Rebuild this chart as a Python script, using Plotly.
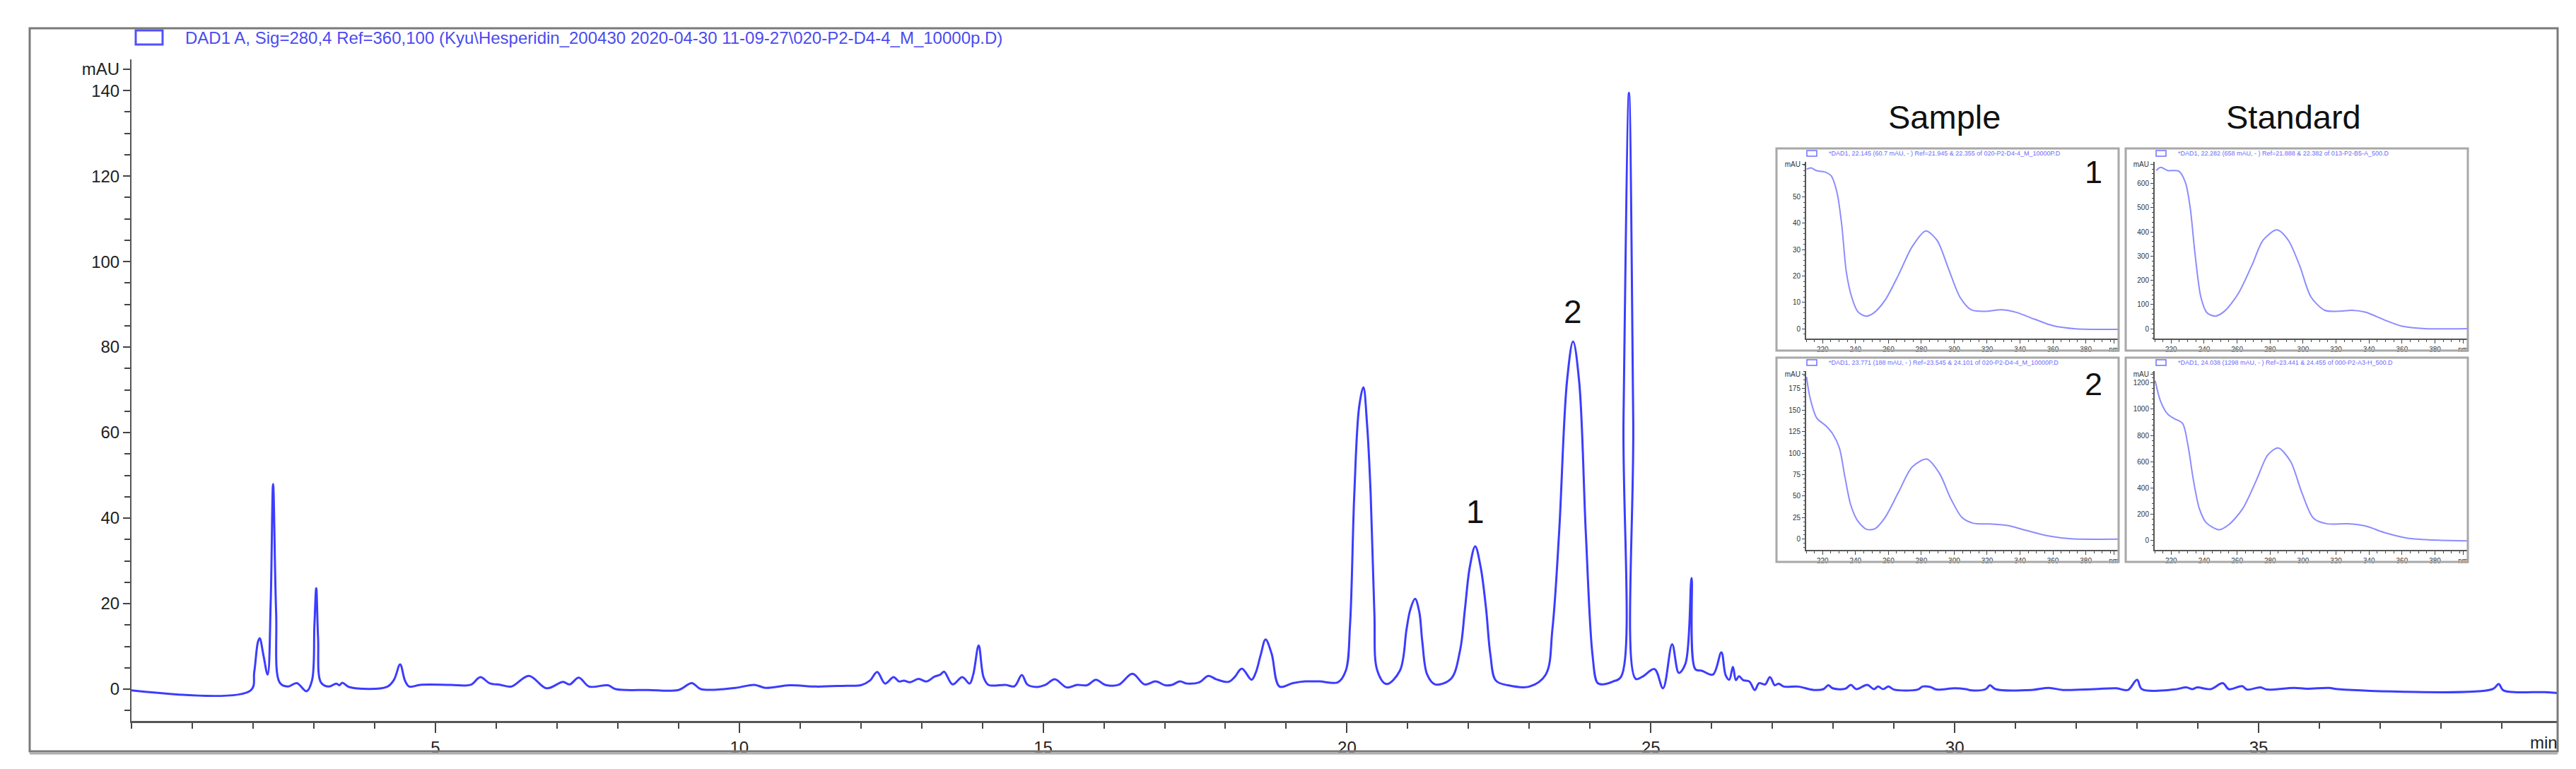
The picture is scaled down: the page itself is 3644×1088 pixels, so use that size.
import plotly.graph_objects as go

# chromatogram (retention time in min, signal in mAU)
time_min = [0, 1.96, 2.02, 2.08, 2.11, 2.17, 2.24, 2.29, 2.33, 2.38, 2.44, 2.57, 2.72, 2.88, 2.97, 3.01, 3.04, 3.07,
            3.12, 3.25, 3.37, 3.42, 3.47, 3.58, 4.2, 4.32, 4.42, 4.50, 4.57, 4.75, 5.25, 5.58, 5.74, 5.89, 6.07, 6.25,
            6.54, 6.83, 7.10, 7.21, 7.36, 7.53, 7.84, 7.97, 8.5, 9.0, 9.22, 9.37, 9.94, 10.25, 10.43, 10.83, 11.27,
            11.76, 12.00, 12.15, 12.27, 12.40, 12.54, 12.63, 12.71, 12.81, 12.95, 13.08, 13.21, 13.31, 13.37, 13.51,
            13.67, 13.79, 13.85, 13.94, 14.02, 14.10, 14.38, 14.53, 14.65, 14.74, 14.89, 15.04, 15.19, 15.39, 15.56,
            15.72, 15.87, 16.02, 16.24, 16.47, 16.67, 16.85, 17.01, 17.12, 17.25, 17.37, 17.57, 17.72, 17.85, 18.05,
            18.15, 18.27, 18.43, 18.50, 18.58, 18.66, 18.76, 18.89, 19.11, 19.31, 19.55, 19.85, 19.98, 20.05, 20.12,
            20.20, 20.27, 20.33, 20.39, 20.45, 20.50, 20.65, 20.87, 20.98, 21.04, 21.12, 21.19, 21.24, 21.32, 21.45,
            21.71, 21.86, 21.94, 22.02, 22.11, 22.20, 22.29, 22.36, 22.45, 22.65, 23.00, 23.27, 23.38, 23.49, 23.62,
            23.72, 23.82, 23.93, 24.04, 24.12, 24.20, 24.38, 24.51,
            24.55, 24.64, 24.71, 24.75, 24.86, 25.06, 25.20, 25.35, 25.46, 25.57, 25.67, 25.73, 25.84, 26.02, 26.16,
            26.23, 26.29, 26.35, 26.40, 26.45, 26.52, 26.62, 26.71, 26.78, 26.88, 26.96, 27.04, 27.10, 27.19, 27.42,
            27.68, 27.84, 27.92, 27.99, 28.20, 28.29, 28.38, 28.56, 28.67, 28.74, 28.82, 28.91, 29.00, 29.39, 29.47,
            29.60, 29.70, 30.00, 30.18, 30.28, 30.51, 30.58, 30.67, 31.26, 31.55, 31.78, 32.30, 32.66, 32.85, 33.00,
            33.08, 33.60, 33.81, 33.91, 33.99, 34.21, 34.41, 34.51, 34.73, 34.81, 35.03, 35.14, 35.58, 35.80, 36.16,
            36.30, 38.85, 38.95, 39.03, 39.71, 39.92]
signal_mau = [-0.3, -0.3, 4, 11, 11.9, 8, 3.4, 20, 48, 18, 1.5, 0.6, 1.4, -0.5, 2, 15, 23.6, 12,
              1.5, 0.6, 1.3, 0.9, 1.5, 0.5, 0.5, 2.2, 5.8, 2.0, 0.6, 1.0, 1.0, 1.0, 2.8, 1.4, 1.0, 0.6,
              3.1, 0.2, 1.7, 1.1, 2.7, 0.6, 0.9, 0.0, -0.2, -0.2, 1.4, 0.0, 0.3, 1.0, 0.3, 0.9, 0.6,
              0.8, 0.9, 2.0, 4.0, 1.3, 2.8, 1.8, 2.0, 1.6, 2.4, 1.8, 2.9, 3.4, 4.1, 1.1,
              2.8, 1.3, 3.4, 10.2, 2.8, 1.0, 1.0, 0.7, 3.3, 1.1, 0.5, 1.0, 2.3, 0.4, 1.0,
              0.9, 2.2, 1.0, 1.0, 3.6, 1.1, 1.8, 0.9, 1.0, 1.8, 1.3, 1.6, 3.1, 2.3, 1.7,
              2.8, 4.8, 2.2, 3.9, 8.0, 11.6, 8.3, 0.6, 1.4, 1.8, 1.8, 1.6, 4.3, 15, 45.5,
              66, 70.6, 62, 45.5, 18, 4.3, 1.2, 4.3, 14, 18.5, 21.1, 18, 11, 3.4, 1.1,
              2.4, 9, 18.6, 28.5, 33.4, 28.5, 18.6, 8, 2.0, 0.9, 0.6, 3.4, 14, 36.5, 72,
              81.3, 72, 36.5, 8, 1.5, 1.1, 1.8, 2.9,
              63, 139.5, 63, 2.4, 2.9, 4.7, 0.2, 10.5, 3.8, 6.0, 26, 4.7, 4.3, 3.4, 8.6,
              3.3, 2.2, 5.2, 2.1, 3.0, 2.1, 1.8, -0.2, 1.4, 1.1, 2.8, 0.9, 1.3, 0.6, 0.6,
              -0.2, 0.0, 0.9, 0.2, 0.1, 1.0, 0.0, 1.0, 0.0, 0.6, 0.0, 0.6, -0.1, -0.1, 0.6,
              0.5, -0.1, 0.2, 0.0, -0.3, 0.0, 0.9, 0.0, -0.2, 0.3, -0.2, 0.0, 0.2, -0.2, 2.2,
              0.0, -0.1, 0.4, 0.0, 0.4, 0.0, 1.4, 0.0, 0.7, -0.1, 0.4, -0.1, 0.3, 0.1, 0.3,
              0.0, 0.0, 1.2, -0.3, -0.7, -0.9]

# UV spectra of the two marked peaks (wavelength nm, mAU)
s1_nm = [210.3, 213, 216.4, 222, 225.2, 228.8, 231.6, 234.4, 237.7, 241.3, 246, 251, 257.9, 266.1, 274.4, 282.7,
         289.6, 296.5, 303.5, 310.4, 318.6, 328.3, 338, 349, 360, 373.9, 399.5]
s1_mau = [60.5, 61, 59.9, 59.3, 58, 51.5, 39.5, 21.6, 12, 6.6, 4.8, 6, 10.8, 20.4, 31.1, 37.1,
          33.5, 22.8, 12, 7.2, 6.6, 7.2, 6.2, 3.6, 1.2, 0, -0.2]
std1_nm = [210.9, 213.6, 217.8, 224.7, 228.8, 231.6, 234.4, 238, 241.8, 246.8, 252.3, 260.6, 268.9, 275.8, 284.1,
           291, 297.9, 304.8, 313.1, 321.4, 329.7, 338, 349, 360.1, 373.9, 399.5]
std1_mau = [654, 667, 654, 651, 601, 497, 314, 131, 65, 52, 72, 144, 261, 366, 408,
            366, 261, 131, 76, 72, 76, 68, 37, 10, 0, 0]
s2_nm = [210.2, 212.3, 216.4, 222, 226.1, 230.2, 233.5, 237.1, 241.3, 246.8, 251.8, 257.9, 266.1, 274.4, 283.3,
         291, 297.9, 304.8, 311.7, 321.4, 332.5, 343.5, 357.3, 371.1, 399.5]
s2_mau = [188.6, 164.7, 140.8, 131.6, 122.4, 105.9, 72.8, 39.7, 21.3, 11.4, 12.1, 25, 54.4, 83.8, 93,
          76.5, 47.1, 25, 18.4, 17.6, 15.8, 10.3, 3.7, 0.4, 0]
std2_nm = [210.3, 213.6, 217.8, 221.9, 226.9, 230.2, 233.5, 237.1, 241.3, 249, 255.1, 263.4, 271.7, 278.6, 284.9,
           292.4, 299.3, 306.2, 314.5, 326.9, 338, 349, 362.9, 382.2, 399.5]
std2_mau = [1217, 1060, 964, 928, 892, 723, 458, 241, 133, 80, 120, 241, 458, 651, 704,
            602, 361, 169, 125, 125, 108, 60, 17, 0, -5]

main_legend = "DAD1 A, Sig=280,4 Ref=360,100 (Kyu\\Hesperidin_200430 2020-04-30 11-09-27\\020-P2-D4-4_M_10000p.D)"
inset_legends = [
    "*DAD1, 22.145 (60.7 mAU, - ) Ref=21.945 & 22.355 of 020-P2-D4-4_M_10000P.D",
    "*DAD1, 22.282 (658 mAU, - ) Ref=21.888 & 22.382 of 013-P2-B5-A_500.D",
    "*DAD1, 23.771 (188 mAU, - ) Ref=23.545 & 24.101 of 020-P2-D4-4_M_10000P.D",
    "*DAD1, 24.038 (1298 mAU, - ) Ref=23.441 & 24.455 of 000-P2-A3-H_500.D",
]

FONT = "Liberation Sans, Arial, sans-serif"
BLUE = "#3c3cff"
LIGHT = "#8c8cff"

# plot area in pixels: x 178..3610, y 76..1012
def px(x):
    return (x - 178) / 3432

def py(y):
    return (1012 - y) / 936

fig = go.Figure()
fig.add_trace(go.Scatter(x=time_min, y=signal_mau, mode="lines",
                         line=dict(color=BLUE, width=3, shape="spline", smoothing=1.0),
                         hoverinfo="x+y"))

# insets: (x, y, axis suffix, y ticks, mAU tick position, minor step, y range, x pixels, y pixels)
insets = [
    (s1_nm, s1_mau, "2", [0, 10, 20, 30, 40, 50], 62.2, 2, [-3.6, 63.4], (2547, 2988), (470.7, 220.5)),
    (std1_nm, std1_mau, "3", [0, 100, 200, 300, 400, 500, 600], 678, 20, [-40, 691], (3040, 3482), (470.7, 220.5)),
    (s2_nm, s2_mau, "4", [0, 25, 50, 75, 100, 125, 150, 175], 191.5, 5, [-12.5, 195], (2547, 2988), (770, 517.4)),
    (std2_nm, std2_mau, "5", [0, 200, 400, 600, 800, 1000, 1200], 1265, 40, [-74, 1289], (3040, 3482), (770, 517.4)),
]
nm_ticks = [220, 240, 260, 280, 300, 320, 340, 360, 380, 397]
nm_text = ["220", "240", "260", "280", "300", "320", "340", "360", "380", "nm"]

layout_axes = {}
for xs, ys, k, yt, mau_pos, ystep, yr, xpix, ypix in insets:
    fig.add_trace(go.Scatter(x=xs, y=ys, mode="lines", xaxis="x" + k, yaxis="y" + k,
                             line=dict(color=LIGHT, width=2, shape="spline", smoothing=0.8)))
    layout_axes["xaxis" + k] = dict(
        domain=[px(xpix[0]), px(xpix[1])], anchor="y" + k, range=[210, 399.5],
        tickmode="array", tickvals=nm_ticks, ticktext=nm_text, ticks="outside", ticklen=5, tickwidth=1,
        tickcolor="#444", showline=True, linecolor="#555", linewidth=2, showgrid=False, zeroline=False,
        tickfont=dict(size=10, color="#333", family=FONT),
        minor=dict(tickmode="linear", tick0=210, dtick=5, ticks="outside", ticklen=3, tickwidth=1, tickcolor="#444"),
    )
    layout_axes["yaxis" + k] = dict(
        domain=[py(ypix[0]), py(ypix[1])], anchor="x" + k, range=yr,
        tickmode="array", tickvals=yt + [mau_pos], ticktext=[str(v) for v in yt] + ["mAU"],
        ticks="outside", ticklen=4, tickwidth=1, tickcolor="#444",
        showline=True, linecolor="#555", linewidth=2, showgrid=False, zeroline=False,
        tickfont=dict(size=10, color="#333", family=FONT),
        minor=dict(tickmode="linear", tick0=0, dtick=ystep, ticks="outside", ticklen=2, tickwidth=1, tickcolor="#444"),
    )

shapes = [
    # outer frame
    dict(type="rect", xref="paper", yref="paper", x0=px(34), x1=px(3610), y0=py(1055), y1=py(32),
         line=dict(color="#7a7a7a", width=3)),
    dict(type="line", xref="paper", yref="paper", x0=px(34), x1=px(3610), y0=py(1058), y1=py(1058),
         line=dict(color="#b0b0b0", width=3)),
    # legend swatch of the chromatogram
    dict(type="rect", xref="paper", yref="paper", x0=px(184), x1=px(222), y0=py(55), y1=py(35),
         line=dict(color="#5050ff", width=3)),
]
annotations = [
    dict(text=main_legend, xref="paper", yref="paper", x=px(252), y=py(46), xanchor="left", yanchor="middle",
         showarrow=False, font=dict(size=24, color="#4b4bf0", family=FONT)),
    dict(text="min", xref="paper", yref="paper", x=px(3612), y=py(1042), xanchor="right", yanchor="middle",
         showarrow=False, font=dict(size=24, color="#222", family=FONT)),
    dict(text="1", x=22.11, y=41.5, showarrow=False, xanchor="center", yanchor="middle",
         font=dict(size=46, color="#111", family=FONT)),
    dict(text="2", x=23.72, y=88.3, showarrow=False, xanchor="center", yanchor="middle",
         font=dict(size=46, color="#111", family=FONT)),
    dict(text="Sample", xref="paper", yref="paper", x=px(2742), y=py(157), xanchor="center", yanchor="middle",
         showarrow=False, font=dict(size=47, color="#111", family=FONT)),
    dict(text="Standard", xref="paper", yref="paper", x=px(3236), y=py(157), xanchor="center", yanchor="middle",
         showarrow=False, font=dict(size=47, color="#111", family=FONT)),
    dict(text="1", xref="paper", yref="paper", x=px(2953), y=py(236), xanchor="center", yanchor="middle",
         showarrow=False, font=dict(size=45, color="#111", family=FONT)),
    dict(text="2", xref="paper", yref="paper", x=px(2953), y=py(535), xanchor="center", yanchor="middle",
         showarrow=False, font=dict(size=45, color="#111", family=FONT)),
]

# inset frames and their little legend lines
boxes = [((2505, 2989), (488, 202)), ((2999, 3483), (488, 202)),
         ((2505, 2989), (787, 498)), ((2999, 3483), (787, 498))]
for (bx, by), label in zip(boxes, inset_legends):
    shapes.append(dict(type="rect", xref="paper", yref="paper", x0=px(bx[0]), x1=px(bx[1]),
                       y0=py(by[0]), y1=py(by[1]), line=dict(color="#a8a8a8", width=3)))
    shapes.append(dict(type="rect", xref="paper", yref="paper", x0=px(bx[0] + 43), x1=px(bx[0] + 57),
                       y0=py(by[1] + 11), y1=py(by[1] + 3), line=dict(color="#7070ff", width=1.5)))
    annotations.append(dict(text=label, xref="paper", yref="paper", x=px(bx[0] + 72), y=py(by[1] + 7),
                            xanchor="left", yanchor="middle", showarrow=False,
                            font=dict(size=9, color="#6a6aff", family=FONT)))

fig.update_layout(
    width=3644, height=1088,
    margin=dict(l=178, r=34, t=76, b=76),
    plot_bgcolor="white", paper_bgcolor="white",
    showlegend=False,
    font=dict(family=FONT, size=24, color="#222"),
    xaxis=dict(range=[0, 39.92], tickmode="array", tickvals=[5, 10, 15, 20, 25, 30, 35],
               ticks="outside", ticklen=14, tickwidth=2, tickcolor="#444",
               showline=True, linecolor="#555", linewidth=3, showgrid=False, zeroline=False,
               tickfont=dict(size=24, color="#222", family=FONT),
               minor=dict(tickmode="linear", tick0=0, dtick=1, ticks="outside", ticklen=8,
                          tickwidth=2, tickcolor="#444")),
    yaxis=dict(range=[-7.44, 147.3], tickmode="array", tickvals=[0, 20, 40, 60, 80, 100, 120, 140, 145],
               ticktext=["0", "20", "40", "60", "80", "100", "120", "140", "mAU"],
               ticks="outside", ticklen=10, tickwidth=2, tickcolor="#444",
               showline=True, linecolor="#555", linewidth=2, showgrid=False, zeroline=False,
               tickfont=dict(size=24, color="#222", family=FONT),
               minor=dict(tickmode="linear", tick0=0, dtick=5, ticks="outside", ticklen=8,
                          tickwidth=2, tickcolor="#444")),
    shapes=shapes,
    annotations=annotations,
    **layout_axes,
)

fig.write_html("out.html")
